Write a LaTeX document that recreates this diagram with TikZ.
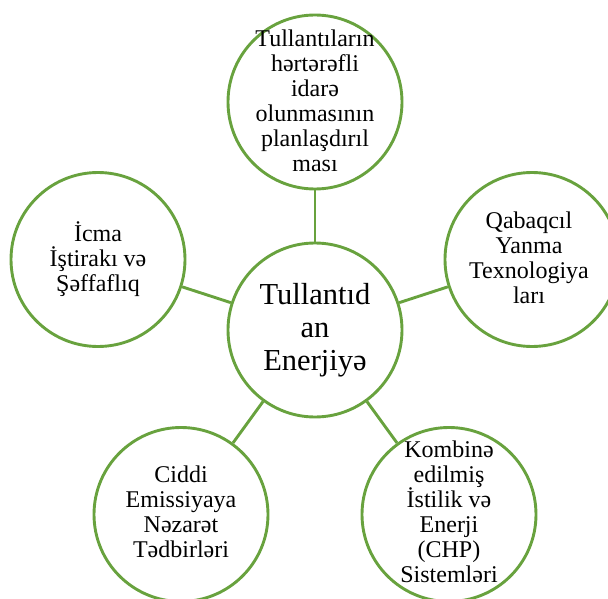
\documentclass[tikz,border=0pt]{standalone}
\usepackage{fontspec}
\setmainfont{Liberation Serif}
\definecolor{ringgreen}{RGB}{104,162,62}
\begin{document}
\begin{tikzpicture}[x=1pt,y=-1pt,
  ring/.style={circle,draw=ringgreen,line width=2.9pt,minimum size=174pt,inner sep=0pt},
  link/.style={draw=ringgreen,line width=2.9pt},
  outertext/.style={align=center,font=\fontsize{24}{25}\selectfont,inner sep=0pt},
  hubtext/.style={align=center,font=\fontsize{30.5}{33}\selectfont,inner sep=0pt}]
\useasboundingbox (0,0) rectangle (608,599);
% ring nodes on a regular pentagon around the hub
\node[ring] (hub) at (315,330) {};
\node[ring] (top) at (315,102) {};
\node[ring] (right) at (532,259.5) {};
\node[ring] (bright) at (449,514.5) {};
\node[ring] (bleft) at (181,514.5) {};
\node[ring] (left) at (98,259.5) {};
% connectors
\draw[link] (hub) -- (top);
\draw[link] (hub) -- (right);
\draw[link] (hub) -- (bright);
\draw[link] (hub) -- (bleft);
\draw[link] (hub) -- (left);
% labels
\node[hubtext] (hubL) at (hub) {Tullantıd\\an\\Enerjiyə};
\node[outertext] (topL) at (315,101) {Tullantıların\\hərtərəfli\\idarə\\olunmasının\\planlaşdırıl\\ması};
\node[outertext] (rightL) at (529,258) {Qabaqcıl\\Yanma\\Texnologiya\\ları};
\node[outertext] (brightL) at (449,512) {Kombinə\\edilmiş\\İstilik və\\Enerji\\(CHP)\\Sistemləri};
\node[outertext] (bleftL) at (181,512) {Ciddi\\Emissiyaya\\Nəzarət\\Tədbirləri};
\node[outertext] (leftL) at (98,259) {İcma\\İştirakı və\\Şəffaflıq};
\end{tikzpicture}
\end{document}
